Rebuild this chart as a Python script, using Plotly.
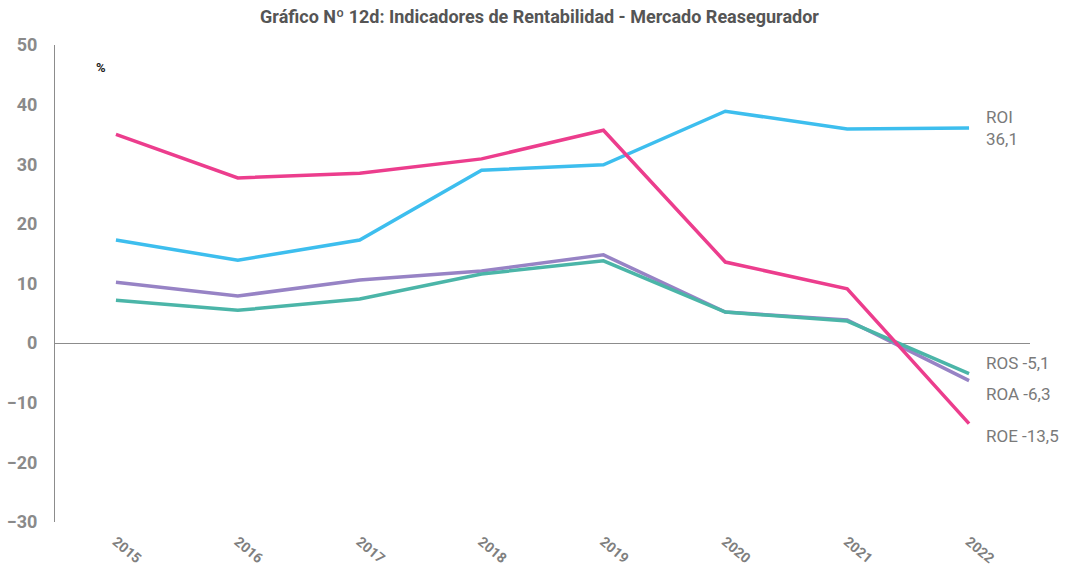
import plotly.graph_objects as go

years = ["2015", "2016", "2017", "2018", "2019", "2020", "2021", "2022"]
roi = [17.3, 13.9, 17.3, 29.0, 29.9, 38.9, 35.9, 36.1]
roa = [10.2, 7.9, 10.6, 12.1, 14.8, 5.2, 3.9, -6.3]
ros = [7.2, 5.5, 7.4, 11.6, 13.8, 5.2, 3.7, -5.1]
roe = [35.0, 27.7, 28.5, 30.9, 35.7, 13.6, 9.1, -13.5]
y_ticks = [-30, -20, -10, 0, 10, 20, 30, 40, 50]

series = [
    ("ROI", roi, "#3DBEEE"),
    ("ROA", roa, "#9783C5"),
    ("ROS", ros, "#4BB5A8"),
    ("ROE", roe, "#EC3D8D"),
]

xs = list(range(len(years)))
fig = go.Figure()
for name, vals, col in series:
    fig.add_trace(go.Scatter(x=xs, y=vals, mode="lines", name=name,
                             line=dict(color=col, width=3.5), hoverinfo="skip"))

def fmt(v):
    return f"{v:.1f}".replace(".", ",")

label_font = dict(family="Roboto", size=17, color="#7a7a7a")
last = len(years) - 1
fig.add_annotation(x=last + 0.12, y=roi[-1], xref="x", yref="y",
                   text=f"ROI<br>{fmt(roi[-1])}", showarrow=False,
                   xanchor="left", yanchor="middle", align="left", font=label_font)
offsets = {"ROS": 1.7, "ROA": -2.3, "ROE": -2.1}
for name, vals, col in series[1:]:
    fig.add_annotation(x=last + 0.12, y=vals[-1] + offsets[name], xref="x", yref="y",
                       text=f"{name} {fmt(vals[-1])}", showarrow=False,
                       xanchor="left", yanchor="middle", font=label_font)

fig.add_annotation(x=(101 - 55) / 975, y=(522 - 67) / 477, xref="paper", yref="paper",
                   xanchor="center", yanchor="middle",
                   text="<b>%</b>", showarrow=False,
                   font=dict(family="Roboto", size=13, color="#222"))

fig.update_layout(
    width=1066, height=574,
    margin=dict(l=55, r=36, t=45, b=52),
    paper_bgcolor="white", plot_bgcolor="white",
    showlegend=False,
    title=dict(text="<b>Gráfico Nº 12d: Indicadores de Rentabilidad - Mercado Reasegurador</b>",
               x=539.5 / 1066, xanchor="center", y=1 - 17 / 574, yanchor="middle",
               font=dict(family="Roboto", size=18, color="#555555")),
    xaxis=dict(range=[-0.5, 7.5], tickmode="array", tickvals=xs, ticktext=years,
               tickangle=40, showgrid=False, zeroline=False, showline=False,
               automargin=False,
               ticks="", tickfont=dict(family="Roboto", size=14, color="#7f7f7f", weight="bold"),
               ticklabelstandoff=8),
    yaxis=dict(range=[-30, 50], tickmode="array", tickvals=y_ticks,
               showgrid=False, zeroline=True, zerolinecolor="#8c8c8c", zerolinewidth=1,
               showline=True, linecolor="#8c8c8c", linewidth=1, ticks="",
               automargin=False,
               tickfont=dict(family="Roboto", size=18, color="#8a8a8a", weight="bold"),
               ticklabelstandoff=13),
)

fig.write_html("out.html", config={"displayModeBar": False},
               post_script="document.body.style.margin='0';document.body.style.overflow='hidden';")
